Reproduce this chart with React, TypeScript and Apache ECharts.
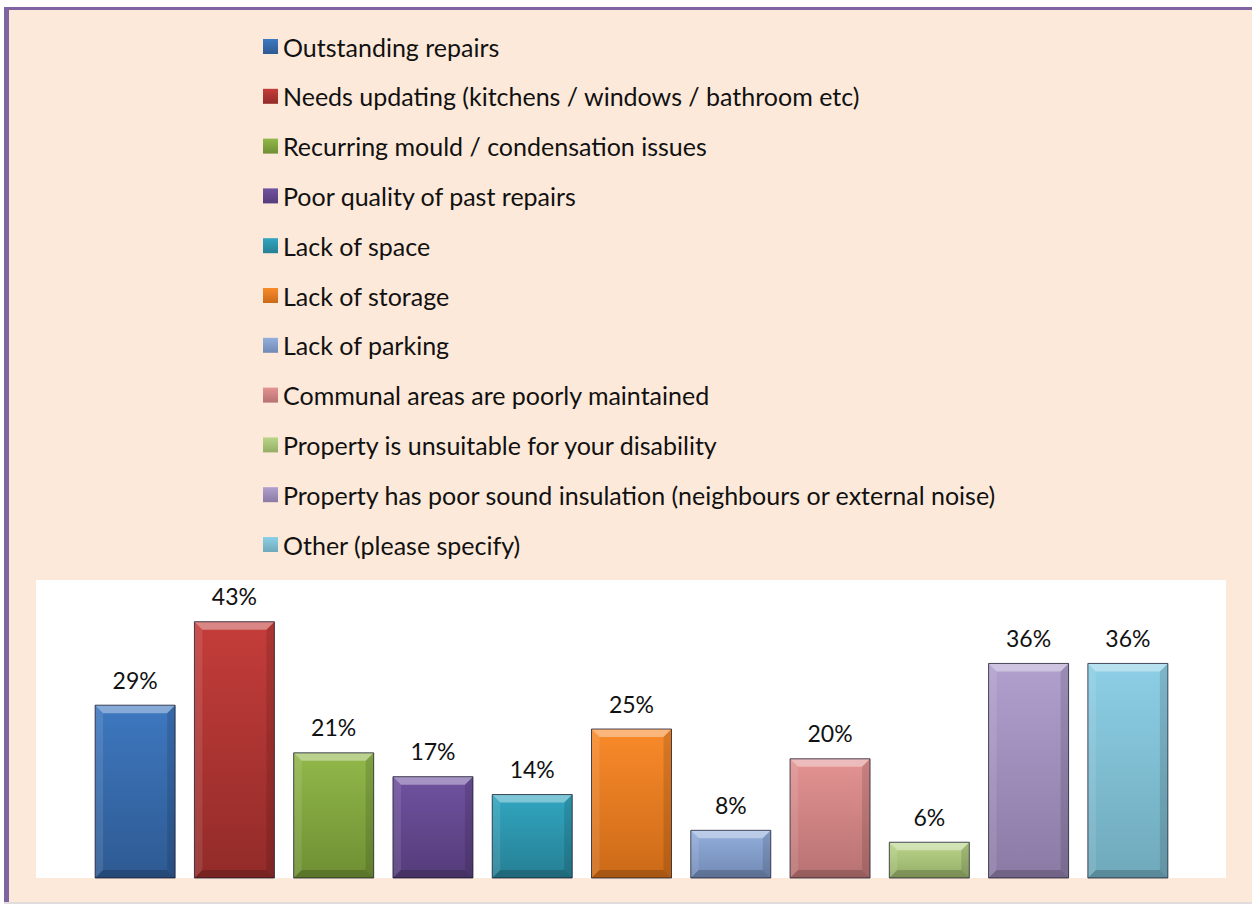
import React, { useEffect, useRef } from "react";
import * as echarts from "echarts";

const categories = [
  "Outstanding repairs",
  "Needs updating (kitchens / windows / bathroom etc)",
  "Recurring mould / condensation issues",
  "Poor quality of past repairs",
  "Lack of space",
  "Lack of storage",
  "Lack of parking",
  "Communal areas are poorly maintained",
  "Property is unsuitable for your disability",
  "Property has poor sound insulation (neighbours or external noise)",
  "Other (please specify)",
];

const values = [29, 43, 21, 17, 14, 25, 8, 20, 6, 36, 36];

const topColors = [
  "#3E78C0", "#C43D3A", "#92B84A", "#7052A0", "#31A6C0", "#F98A2A",
  "#93AFDC", "#E39392", "#BAD68A", "#B1A0CE", "#8DCFE6",
];
const bottomColors = [
  "#2E5A92", "#922B29", "#6F8F33", "#553C7A", "#267F94", "#CC6A18",
  "#7189B5", "#B87272", "#95AD67", "#8A7AA4", "#6FA9BB",
];

const FONT = "Lato, 'Open Sans', sans-serif";

export default function App() {
  const ref = useRef<HTMLDivElement>(null);

  useEffect(() => {
    document.body.style.margin = "0";
    if (!ref.current) return;
    const chart = echarts.init(ref.current, null, { renderer: "svg" });

    const barSeries = categories.map((name, i) => ({
      name,
      type: "bar",
      stack: "all",
      barWidth: 80,
      data: values.map((v, j) => (j === i ? v : "-")),
      itemStyle: {
        color: new echarts.graphic.LinearGradient(0, 0, 0, 1, [
          { offset: 0, color: topColors[i] },
          { offset: 1, color: bottomColors[i] },
        ]),
      },
      label: {
        show: true,
        position: "top",
        distance: 14,
        formatter: (p: any) => (p.value === "-" ? "" : p.value + "%"),
        fontFamily: FONT,
        fontSize: 23,
        color: "#111",
      },
      z: 2,
    }));

    const bevel = {
      name: "bevel",
      type: "custom",
      silent: true,
      z: 3,
      data: values.map((v, i) => [i, v]),
      encode: { x: 0, y: 1 },
      renderItem: (params: any, api: any) => {
        const i = api.value(0);
        const v = api.value(1);
        const top = api.coord([i, v]);
        const base = api.coord([i, 0]);
        const bw = 80;
        const x1 = top[0] - bw / 2;
        const x2 = top[0] + bw / 2;
        const y1 = top[1];
        const y2 = base[1];
        const b = Math.min(8, (y2 - y1) / 2);
        return {
          type: "group",
          children: [
            {
              type: "polygon",
              shape: { points: [[x1, y1], [x2, y1], [x2 - b, y1 + b], [x1 + b, y1 + b]] },
              style: { fill: "rgba(255,255,255,0.38)" },
            },
            {
              type: "polygon",
              shape: { points: [[x1, y1], [x1 + b, y1 + b], [x1 + b, y2 - b], [x1, y2]] },
              style: { fill: "rgba(255,255,255,0.10)" },
            },
            {
              type: "polygon",
              shape: { points: [[x2, y1], [x2, y2], [x2 - b, y2 - b], [x2 - b, y1 + b]] },
              style: { fill: "rgba(0,0,0,0.12)" },
            },
            {
              type: "polygon",
              shape: { points: [[x1, y2], [x2, y2], [x2 - b, y2 - b], [x1 + b, y2 - b]] },
              style: { fill: "rgba(0,0,0,0.18)" },
            },
            {
              type: "rect",
              shape: { x: x1, y: y1, width: bw, height: y2 - y1 },
              style: { fill: "none", stroke: "rgba(20,20,40,0.75)", lineWidth: 1 },
            },
          ],
        };
      },
    };

    chart.setOption({
      animation: false,
      backgroundColor: "#ffffff",
      graphic: [
        { type: "rect", z: -10, shape: { x: 4, y: 7, width: 1248, height: 895 }, style: { fill: "#8064A2" } },
        { type: "rect", z: -9, shape: { x: 9, y: 10, width: 1243, height: 892 }, style: { fill: "#FDE9D9" } },
        { type: "rect", z: -9, shape: { x: 4, y: 902, width: 1248, height: 2 }, style: { fill: "#E2DCDC" } },
        { type: "rect", z: -8, shape: { x: 36, y: 580, width: 1190, height: 298 }, style: { fill: "#FFFFFF" } },
      ],
      legend: {
        data: categories,
        orient: "vertical",
        left: 263,
        top: 34,
        padding: 0,
        itemWidth: 15,
        itemHeight: 15,
        itemGap: 24.8,
        icon: "rect",
        selectedMode: false,
        textStyle: { fontFamily: FONT, fontSize: 25, lineHeight: 25, color: "#111" },
      },
      grid: { left: 85.5, right: 74.5, top: 580, bottom: 26, containLabel: false },
      xAxis: {
        type: "category",
        data: categories,
        show: false,
      },
      yAxis: {
        type: "value",
        min: 0,
        max: 50,
        show: false,
        splitLine: { show: false },
      },
      series: [...barSeries, bevel],
    });

    return () => chart.dispose();
  }, []);

  return <div ref={ref} style={{ width: 1252, height: 904 }} />;
}
